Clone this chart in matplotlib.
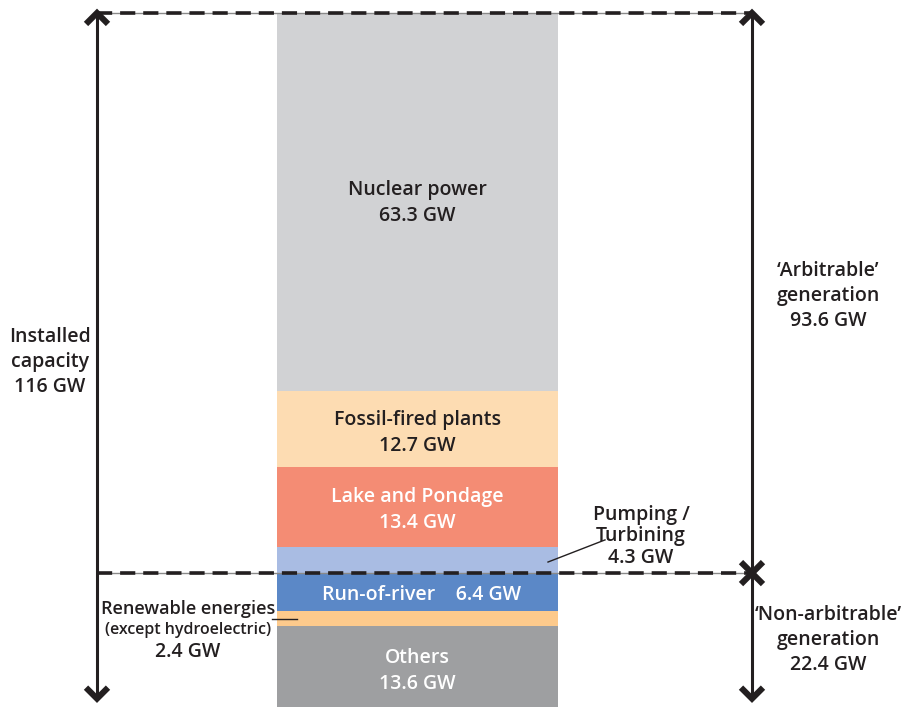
import matplotlib
matplotlib.use("Agg")
import matplotlib.pyplot as plt
import numpy as np

# Installed capacity by source, stacked from the bottom (GW)
sources = ["Others", "Renewable energies", "Run-of-river", "Pumping / Turbining",
           "Lake and Pondage", "Fossil-fired plants", "Nuclear power"]
capacity_gw = [13.6, 2.4, 6.4, 4.3, 13.4, 12.7, 63.3]
colors = ["#9e9fa1", "#fdca8c", "#5b88c7", "#a9bce3", "#f48c74", "#fddcb2", "#d1d2d4"]

installed_total = 116
arbitrable_gw = 93.6
non_arbitrable_gw = 22.4

plt.rcParams["font.family"] = ["Open Sans", "DejaVu Sans"]
TXT = "#231f20"

fig = plt.figure(figsize=(9.07, 7.07), dpi=100)
ax = fig.add_axes([0, 0, 1, 1])
PX_PER_GW = 5.978
ax.set_xlim(0, 907)
ax.set_ylim(0, 707 / PX_PER_GW)
ax.axis("off")

bottoms = np.concatenate([[0], np.cumsum(capacity_gw)[:-1]])
tops = np.cumsum(capacity_gw)
bar_x, bar_w = 417.5, 281
ax.bar([bar_x] * len(capacity_gw), capacity_gw, bottom=bottoms, width=bar_w,
       color=colors, linewidth=0, zorder=1)

top_y = tops[-1]
split_y = non_arbitrable_gw
left_x, right_x = 97, 752
px = 1 / PX_PER_GW  # one pixel in GW units

# dashed reference lines
for yy in (top_y, split_y):
    ax.plot([left_x, right_x], [yy, yy], color="#8a8a8a", lw=1.0, zorder=2)
    ax.plot([left_x, right_x], [yy, yy], color=TXT, lw=2.6,
            dashes=(4.2, 2.2), zorder=3)

def chevron(x, y, up=True, size=11):
    s = 1 if up else -1
    ax.plot([x - size, x, x + size], [y - s * size * px, y, y - s * size * px],
            color=TXT, lw=4.4, solid_joinstyle="miter", solid_capstyle="butt", zorder=4)

bottom_tip = 1.4
# left: installed capacity
ax.plot([left_x, left_x], [bottom_tip + px, top_y - px], color=TXT, lw=2.2, zorder=4)
chevron(left_x, top_y, up=True)
chevron(left_x, bottom_tip, up=False)
# right: arbitrable / non-arbitrable
ax.plot([right_x, right_x], [bottom_tip + px, top_y - px], color=TXT, lw=2.2, zorder=4)
chevron(right_x, top_y, up=True)
chevron(right_x, split_y, up=False)
chevron(right_x, split_y, up=True)
chevron(right_x, bottom_tip, up=False)

fs = 14
mid = (bottoms + tops) / 2
kw = dict(ha="center", va="center", fontsize=fs, fontweight="semibold",
          linespacing=1.4, zorder=5)
ax.text(bar_x, mid[6] - 0.2, f"Nuclear power\n{capacity_gw[6]} GW", color=TXT, **kw)
ax.text(bar_x, mid[5] - 0.6, f"Fossil-fired plants\n{capacity_gw[5]} GW", color=TXT, **kw)
ax.text(bar_x, mid[4] - 0.5, f"Lake and Pondage\n{capacity_gw[4]} GW", color="white", **kw)
ax.text(bar_x + 4, mid[2] - 0.5, f"Run-of-river    {capacity_gw[2]} GW", color="white", **kw)
ax.text(bar_x, mid[0] - 0.7, f"Others\n{capacity_gw[0]} GW", color="white", **kw)

# pumping / turbining callout
ax.text(641, mid[3] + 4.0, f"Pumping /\nTurbining\n{capacity_gw[3]} GW",
        color=TXT, ha="center", va="center", fontsize=fs, fontweight="semibold",
        linespacing=1.1, zorder=5)
ax.plot([548, 605], [mid[3] - 0.3, mid[3] + 3.4], color=TXT, lw=1.0, zorder=5)

# renewable callout
ax.plot([272, 297], [mid[1], mid[1]], color=TXT, lw=1.0, zorder=5)
ax.text(188, mid[1] + 1.6, "Renewable energies", color=TXT, ha="center",
        va="center", fontsize=13, fontweight="semibold", zorder=5)
ax.text(188, mid[1] - 2.0, "(except hydroelectric)", color=TXT, ha="center",
        va="center", fontsize=11.5, fontweight="semibold", zorder=5)
ax.text(188, mid[1] - 5.6, f"{capacity_gw[1]} GW", color=TXT, ha="center",
        va="center", fontsize=fs, fontweight="semibold", zorder=5)

side = dict(color=TXT, ha="center", va="center", fontsize=fs, fontweight="semibold",
            linespacing=1.35, zorder=5)
ax.text(50, (707 - 362) / PX_PER_GW, f"Installed\ncapacity\n{installed_total} GW", **side)
ax.text(828, (707 - 296) / PX_PER_GW,
        f"\u2018Arbitrable\u2019\ngeneration\n{arbitrable_gw} GW", **side)
ax.text(828, (707 - 640) / PX_PER_GW,
        f"\u2018Non-arbitrable\u2019\ngeneration\n{non_arbitrable_gw} GW", **side)

fig.savefig("out.png", dpi=100, facecolor="white")
